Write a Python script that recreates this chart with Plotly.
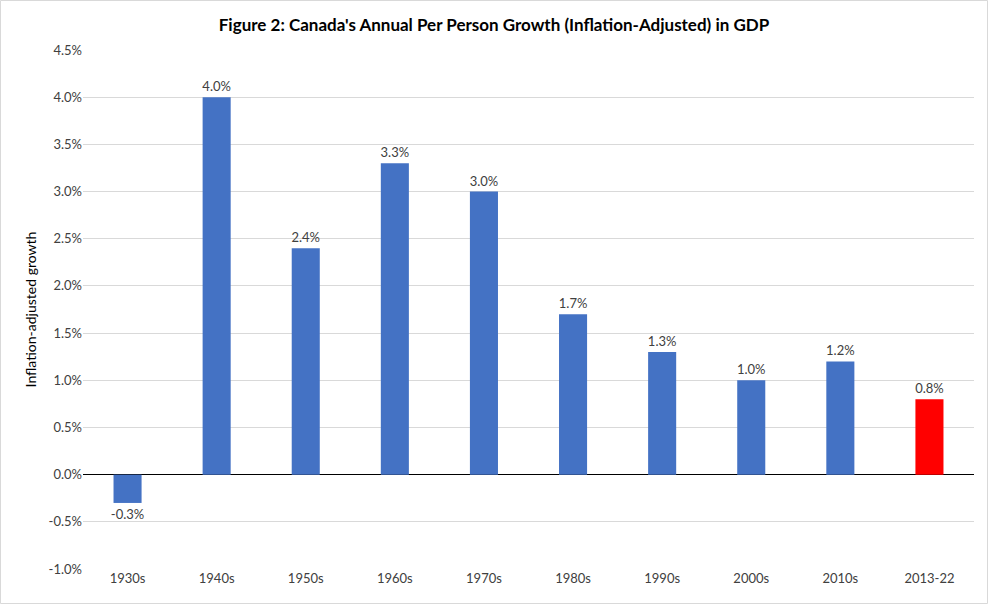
import plotly.graph_objects as go

categories = ["1930s", "1940s", "1950s", "1960s", "1970s", "1980s", "1990s", "2000s", "2010s", "2013-22"]
growth = [-0.3, 4.0, 2.4, 3.3, 3.0, 1.7, 1.3, 1.0, 1.2, 0.8]
bar_colors = ["#4472C4"] * 9 + ["#FF0000"]
tick_vals = [-1.0, -0.5, 0.0, 0.5, 1.0, 1.5, 2.0, 2.5, 3.0, 3.5, 4.0, 4.5]
tick_text = [f"{v:.1f}%" for v in tick_vals]
labels = [f"{v:.1f}%" for v in growth]

W, H = 988, 604
ml, mr, mt, mb = 83, 14, 50, 35
pw, ph = W - ml - mr, H - mt - mb

FONT = "Lato, Calibri, 'Open Sans', sans-serif"

fig = go.Figure(go.Bar(
    x=categories, y=growth, marker=dict(color=bar_colors, line=dict(width=0)),
    text=labels, textposition="outside", cliponaxis=False, constraintext="none",
    textfont=dict(family=FONT, size=13, color="#404040"),
    width=0.315, hoverinfo="skip",
))

fig.update_layout(
    width=W, height=H,
    margin=dict(l=ml, r=mr, t=mt, b=mb),
    paper_bgcolor="white", plot_bgcolor="white",
    showlegend=False,
    font=dict(family=FONT, size=13, color="#404040"),
    title=dict(text="<b>Figure 2: Canada's Annual Per Person Growth (Inflation-Adjusted) in GDP</b>",
               x=0.5, xanchor="center", y=1 - 25 / H, yanchor="middle",
               font=dict(family=FONT, size=17, color="#000000")),
    xaxis=dict(showgrid=False, showline=False, ticks="", tickfont=dict(size=13, color="#404040")),
    yaxis=dict(range=[-1.0, 4.5], tickvals=tick_vals, ticktext=tick_text,
               showgrid=True, gridcolor="#D9D9D9", gridwidth=1,
               zeroline=True, zerolinecolor="#000000", zerolinewidth=1.3,
               showline=False, ticks="", ticklen=0,
               tickfont=dict(size=13, color="#404040"),
               title=dict(text="Inflation-adjusted growth", standoff=8,
                          font=dict(size=14, color="#000000"))),
    bargap=0.685,
)

fig.add_shape(type="rect", xref="paper", yref="paper",
              x0=(0.5 - ml) / pw, x1=(W - 0.5 - ml) / pw,
              y0=-(H - 0.5 - (mt + ph)) / ph, y1=1 + (mt - 0.5) / ph,
              line=dict(color="#D9D9D9", width=1), fillcolor="rgba(0,0,0,0)", layer="below")

fig.write_html("out.html", config={"displayModeBar": False},
               post_script="document.body.style.margin='0';document.body.style.padding='0';")
